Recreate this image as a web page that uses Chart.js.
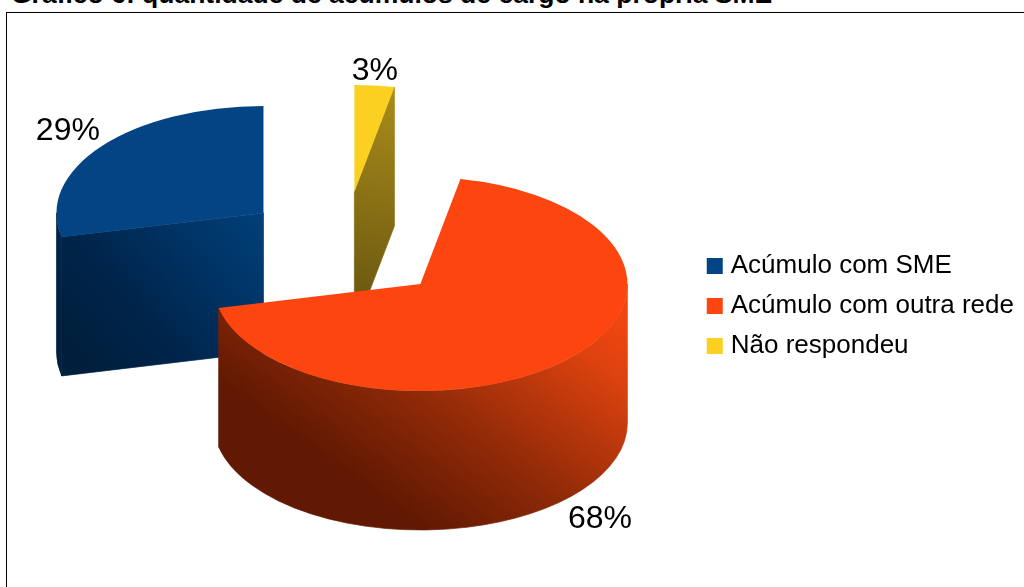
<!DOCTYPE html>
<html lang="pt">
<head>
    <meta charset="UTF-8">
    <title>Gráfico 6</title>
    <style>
        html, body {
            margin: 0;
            width: 1024px;
            height: 587px;
            overflow: hidden;
            background: #fff;
        }
        #title {
            position: absolute;
            left: 11px;
            top: -18px;
            font: bold 26.5px/24px "Liberation Sans", Arial, sans-serif;
            white-space: nowrap;
            color: #000;
        }
        #frame {
            position: absolute;
            left: 6px;
            top: 12px;
            width: 1100px;
            height: 700px;
            border: 1.5px solid #000;
        }
        canvas {
            position: absolute;
            left: 0;
            top: 0;
        }
    </style>
</head>
<body>
    <div id="title">Gráfico 6: quantidade de acúmulos de cargo na própria SME</div>
    <div id="frame"></div>
    <canvas id="pie" width="1024" height="587"></canvas>
    <script src="https://cdn.jsdelivr.net/npm/chart.js"></script>
    <script>
// clockwise from 12 o'clock, so the legend is shown reversed
const categories = ['Não respondeu', 'Acúmulo com outra rede', 'Acúmulo com SME'];
const shares = [3.1, 68.3, 28.6];
const colors = ['#fbd020', '#fd4510', '#024484'];

// look of the fake 3d
const squash = 107 / 207;
const depth = 139;
const lift = 22; // pie sits higher than the legend centre
const paintOrder = [2, 0, 1];
const explode = [[-0.319, -0.86], [0, 0], [-0.758, -0.664]]; // in radii
const labelGap = [[3, 14], [43, 31], [43, 25]];
const wallStops = [
    [[0, '#c8a41e'], [1, '#665410']],
    [[0, '#f0460f'], [0.16, '#dc420f'], [0.6, '#902a08'], [0.95, '#611903'], [1, '#611903']],
    [[0, '#004079'], [0.35, '#003364'], [0.7, '#00244a'], [1, '#001f3d']]
];
const wallAxis = [
    [[0.15, -1], [-0.1, 0.6]],
    [[1.1, 0.275], [0.27, 1.44]],
    [[0, 0], [-0.84, 0.71]]
];

const fake3d = {
    id: 'fake3d',
    beforeDatasetDraw(chart) {
        const ctx = chart.ctx;
        const arcs = chart.getDatasetMeta(0).data;

        paintOrder.forEach(i => {
            const arc = arcs[i];
            const r = arc.outerRadius;
            const ry = r * squash;
            const cx = arc.x + explode[i][0] * r;
            const cy = arc.y - lift + explode[i][1] * ry;
            const a0 = arc.startAngle;
            const a1 = arc.endAngle;

            const axis = wallAxis[i];
            const grad = ctx.createLinearGradient(
                cx + axis[0][0] * r, cy + axis[0][1] * r,
                cx + axis[1][0] * r, cy + axis[1][1] * r);
            wallStops[i].forEach(s => grad.addColorStop(s[0], s[1]));
            ctx.fillStyle = grad;
            ctx.strokeStyle = grad; // hides the seam between face and wall
            ctx.lineWidth = 0.7;

            // radial cut faces, only when they look toward the viewer
            const face = a => {
                const ex = cx + r * Math.cos(a);
                const ey = cy + ry * Math.sin(a);
                ctx.beginPath();
                ctx.moveTo(cx, cy);
                ctx.lineTo(ex, ey);
                ctx.lineTo(ex, ey + depth);
                ctx.lineTo(cx, cy + depth);
                ctx.closePath();
                ctx.fill();
                ctx.stroke();
            };
            if (Math.cos(a0) < -1e-6) face(a0);
            if (Math.cos(a1) > 1e-6) face(a1);

            // outer wall, the part on the front half of the ellipse
            const lo = Math.max(a0, 0);
            const hi = Math.min(a1, Math.PI);
            if (hi > lo) {
                ctx.beginPath();
                ctx.ellipse(cx, cy, r, ry, 0, lo, hi);
                ctx.ellipse(cx, cy + depth, r, ry, 0, hi, lo, true);
                ctx.closePath();
                ctx.fill();
                ctx.stroke();
            }

            // top surface, the arc draws itself in a squashed space
            ctx.save();
            ctx.translate(cx, cy);
            ctx.scale(1, squash);
            ctx.translate(-arc.x, -arc.y);
            arc.draw(ctx);
            ctx.restore();
        });

        // percent labels
        ctx.fillStyle = '#000';
        ctx.font = '32px "Liberation Sans", Arial, sans-serif';
        ctx.textAlign = 'center';
        ctx.textBaseline = 'middle';
        arcs.forEach((arc, i) => {
            const r = arc.outerRadius;
            const ry = r * squash;
            const mid = (arc.startAngle + arc.endAngle) / 2;
            const cx = arc.x + explode[i][0] * r;
            const cy = arc.y - lift + explode[i][1] * ry;
            const front = Math.sin(mid) > 0 ? depth : 0;
            ctx.fillText(Math.round(shares[i]) + '%',
                cx + (r + labelGap[i][0]) * Math.cos(mid),
                cy + (ry + labelGap[i][1]) * Math.sin(mid) + front);
        });
        return false;
    }
};

new Chart(document.getElementById('pie'), {
    type: 'pie',
    data: {
        labels: categories,
        datasets: [{
            data: shares,
            backgroundColor: colors,
            borderWidth: 0
        }]
    },
    options: {
        responsive: false,
        animation: false,
        layout: { padding: { left: 143, top: 99, bottom: 74, right: 0 } },
        plugins: {
            tooltip: { enabled: false },
            legend: {
                position: 'right',
                reverse: true,
                labels: {
                    usePointStyle: true,
                    pointStyle: 'rect',
                    boxWidth: 6,
                    boxHeight: 16,
                    padding: 14,
                    color: '#000',
                    font: { family: '"Liberation Sans", Arial, sans-serif', size: 26 }
                }
            }
        }
    },
    plugins: [fake3d]
});
    </script>
</body>
</html>
